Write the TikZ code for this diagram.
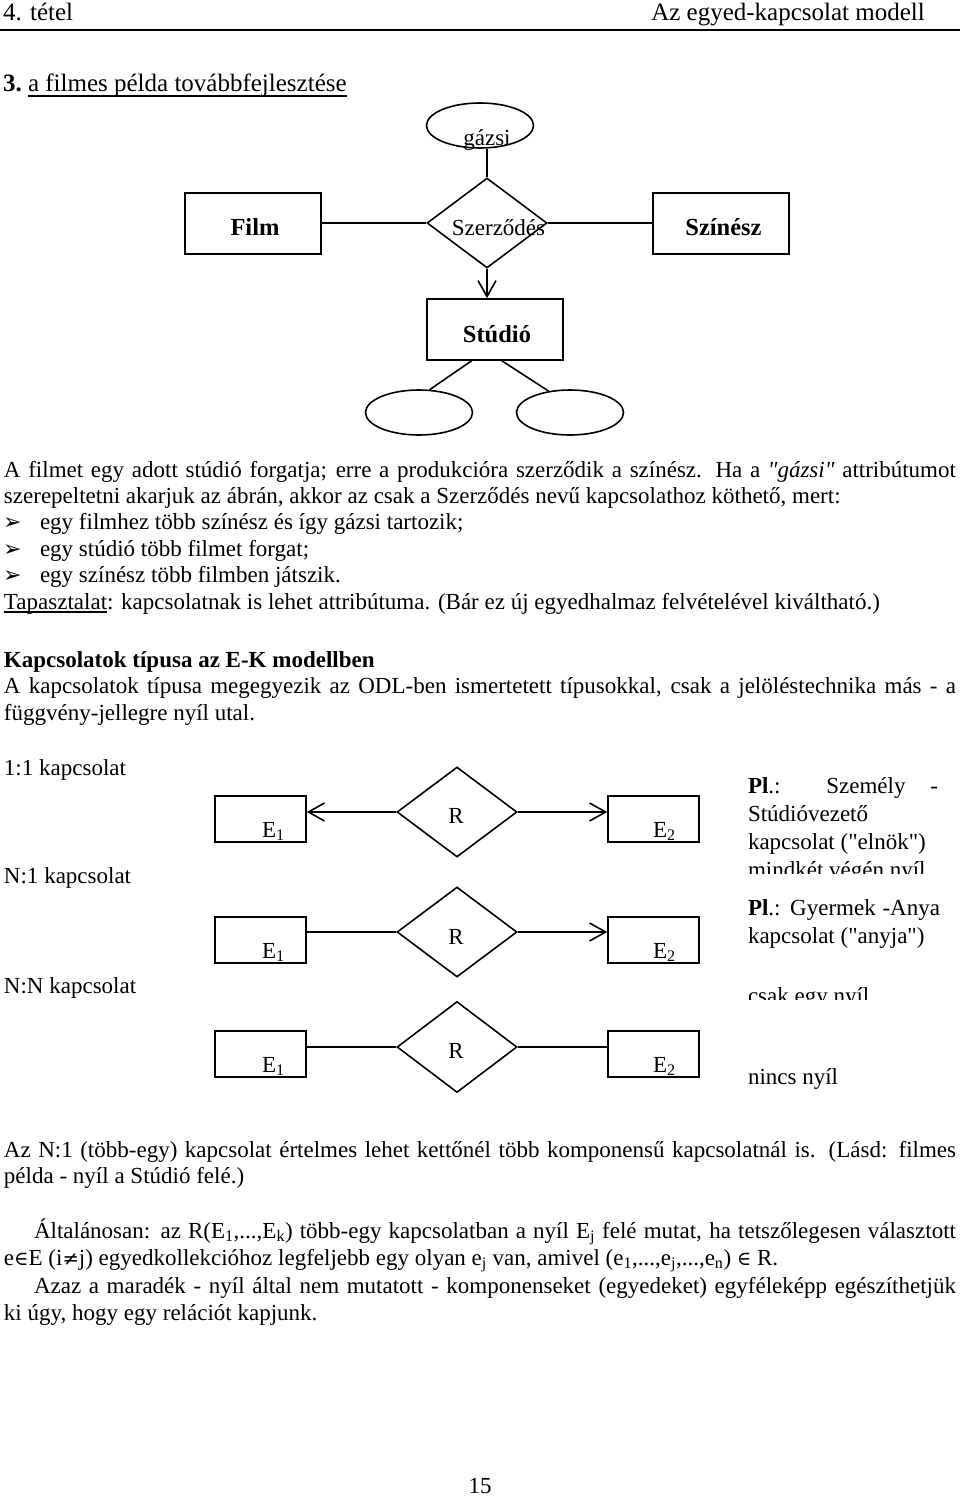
\documentclass[tikz,border=0pt]{standalone}
\usepackage{fontspec}
\setmainfont{Liberation Serif}[Ligatures=TeXOff]
\newfontfamily\djs{DejaVu Sans}
\newfontfamily\symf{DejaVu Serif}[Scale=0.85]
\usetikzlibrary{shapes.geometric,arrows.meta,calc}
\newcommand\fsb{\fontsize{23}{26.5}\selectfont}
\newcommand\fsh{\fontsize{25}{29}\selectfont}
\newcommand\fsk{\fontsize{25}{29}\selectfont}
\newcommand\fse{\fontsize{24.5}{28}\selectfont}
\newcommand\jl[2]{\makebox[#1][s]{#2}}
\tikzset{
 tl/.style={anchor=base west, inner sep=0pt, outer sep=0pt, font=\fsb},
 tc/.style={anchor=base, inner sep=0pt, outer sep=0pt, font=\fsb},
 ent/.style={draw, line width=1.6pt, rectangle, inner sep=0pt},
 bigent/.style={ent, minimum width=136pt, minimum height=61pt},
 smallent/.style={ent, minimum width=91pt, minimum height=46pt},
 rel/.style={draw, line width=1.6pt, diamond, inner sep=0pt, minimum width=120pt, minimum height=90pt},
 attr/.style={draw, line width=1.6pt, ellipse, inner sep=0pt, minimum width=107pt, minimum height=45pt},
 conn/.style={line width=1.6pt},
 arr/.style={conn, -{Straight Barb[length=16pt,width=18pt]}},
 bul/.style={anchor=base west, inner sep=0pt, outer sep=0pt, font=\djs\fontsize{22}{24}\selectfont},
}
\begin{document}
\begin{tikzpicture}[x=1pt,y=-1pt]
\useasboundingbox (0,0) rectangle (960,1496);
\fill[white] (0,0) rectangle (960,1496);

% header
\node[tl, font=\fsh] (hl) at (3,21) {4. tétel};
\node[anchor=base east, inner sep=0pt, font=\fsh] (hr) at (925,21) {Az egyed-kapcsolat modell};
\coordinate (rl) at (0,30);
\coordinate (rr) at (960,30);
\draw[line width=2pt] (rl) -- (rr);

% heading
\node[tl, font=\fsk\bfseries] (h3n) at (3,92) {3.};
\node[tl, font=\fsk] (h3t) at (28,92) {a filmes példa továbbfejlesztése};
\draw[line width=1.5pt] ([yshift=-4pt]h3t.base west) -- ([yshift=-4pt]h3t.base east);

% ER diagram
\node[attr] (gazsi) at (480,125.5) {};
\node[tc] (gazsil) at (487,145) {gázsi};
\node[rel] (szerz) at (487,223) {};
\node[tc] (szerzl) at (498.5,235) {Szerződés};
\node[bigent] (film) at (253,223.5) {};
\node[tc, font=\fse\bfseries] (filml) at (255,235) {Film};
\node[bigent] (szin) at (721,223.5) {};
\node[tc, font=\fse\bfseries] (szinl) at (723.5,235) {Színész};
\node[bigent] (stud) at (495,329.5) {};
\node[tc, font=\fse\bfseries] (studl) at (497,342) {Stúdió};
\node[attr] (sa1) at (419,412.5) {};
\node[attr] (sa2) at (570,412.5) {};
\draw[conn] (szerz.north) -- (szerz.north |- gazsi.south);
\draw[conn] (film.east |- szerz.west) -- (szerz.west);
\draw[conn] (szerz.east) -- (szin.west |- szerz.east);
\draw[arr] (szerz.south) -- (szerz.south |- stud.north);
\draw[conn] ($(stud.south west)!0.33!(stud.south east)$) -- (sa1.65);
\draw[conn] ($(stud.south west)!0.55!(stud.south east)$) -- (sa2.135);

% paragraph
\node[tl] (p1) at (4,477) {\jl{952pt}{A filmet egy adott stúdió forgatja; erre a produkcióra szerződik a színész. Ha a \textit{"gázsi"} attribútumot}};
\node[tl] (p2) at (4,503.4) {szerepeltetni akarjuk az ábrán, akkor az csak a Szerződés nevű kapcsolathoz köthető, mert:};
\node[bul] (bu1) at (3,529.8) {➢};
\node[tl] (p3) at (40,529.8) {egy filmhez több színész és így gázsi tartozik;};
\node[bul] (bu2) at (3,556.2) {➢};
\node[tl] (p4) at (40,556.2) {egy stúdió több filmet forgat;};
\node[bul] (bu3) at (3,582.6) {➢};
\node[tl] (p5) at (40,582.6) {egy színész több filmben játszik.};
\node[tl] (tap) at (4,609) {Tapasztalat};
\node[tl] (p6) at (tap.base east) {: kapcsolatnak is lehet attribútuma. (Bár ez új egyedhalmaz felvételével kiváltható.)};
\draw[line width=1.2pt] ([yshift=-3pt]tap.base west) -- ([yshift=-3pt]tap.base east);

\node[tl, font=\fsb\bfseries] (k0) at (4,667) {Kapcsolatok típusa az E-K modellben};
\node[tl] (k1) at (4,693.5) {\jl{952pt}{A kapcsolatok típusa megegyezik az ODL-ben ismertetett típusokkal, csak a jelöléstechnika más - a}};
\node[tl] (k2) at (4,720) {függvény-jellegre nyíl utal.};

\node[tl] (t11) at (4,775) {1:1 kapcsolat};
\node[tl] (tn1) at (4,883) {N:1 kapcsolat};
\node[tl] (tnn) at (4,993) {N:N kapcsolat};

% row 1
\node[smallent] (a1) at (260.5,819) {};
\node[tl] (a1l) at (262,837) {E\textsubscript{1}};
\node[rel] (r1) at (457,812) {};
\node[tc] (r1l) at (456,823) {R};
\node[smallent] (c1) at (653.5,819) {};
\node[tl] (c1l) at (653,837) {E\textsubscript{2}};
\draw[arr] (r1.west) -- (a1.east |- r1.west);
\draw[arr] (r1.east) -- (c1.west |- r1.east);

% row 2
\node[smallent] (a2) at (260.5,940) {};
\node[tl] (a2l) at (262,958) {E\textsubscript{1}};
\node[rel] (r2) at (457,932) {};
\node[tc] (r2l) at (456,944) {R};
\node[smallent] (c2) at (653.5,940) {};
\node[tl] (c2l) at (653,958) {E\textsubscript{2}};
\draw[conn] (r2.west) -- (a2.east |- r2.west);
\draw[arr] (r2.east) -- (c2.west |- r2.east);

% row 3
\node[smallent] (a3) at (260.5,1054) {};
\node[tl] (a3l) at (262,1072) {E\textsubscript{1}};
\node[rel, minimum height=91pt] (r3) at (457,1047) {};
\node[tc] (r3l) at (456,1058) {R};
\node[smallent] (c3) at (653.5,1054) {};
\node[tl] (c3l) at (653,1072) {E\textsubscript{2}};
\draw[conn] (r3.west) -- (a3.east |- r3.west);
\draw[conn] (r3.east) -- (c3.west |- r3.east);

% side notes
\node[tl] (q1) at (748,793) {\jl{190pt}{\textbf{Pl}.: Személy -}};
\node[tl] (q2) at (748,821) {Stúdióvezető};
\node[tl] (q3) at (748,849) {kapcsolat ("elnök")};
\begin{scope}
\clip (740,856) rectangle (960,873);
\node[tl] (q4) at (748,877) {mindkét végén nyíl};
\end{scope}
\node[tl] (q5) at (748,915) {\jl{192pt}{\textbf{Pl}.: Gyermek -Anya}};
\node[tl] (q6) at (748,943) {kapcsolat ("anyja")};
\begin{scope}
\clip (740,975) rectangle (960,999);
\node[tl] (q7) at (748,1003) {csak egy nyíl};
\end{scope}
\node[tl] (q8) at (748,1084) {nincs nyíl};

% bottom paragraph
\node[tl] (z1) at (4,1157) {\jl{952pt}{Az N:1 (több-egy) kapcsolat értelmes lehet kettőnél több komponensű kapcsolatnál is. (Lásd: filmes}};
\node[tl] (z2) at (4,1183) {példa - nyíl a Stúdió felé.)};
\node[tl] (z3) at (34,1238) {\jl{922pt}{Általánosan: az R(E\textsubscript{1},...,E\textsubscript{k}) több-egy kapcsolatban a nyíl E\textsubscript{j} felé mutat, ha tetszőlegesen választott}};
\node[tl] (z4) at (4,1265) {e{\symf ∈}E (i{\symf ≠}j) egyedkollekcióhoz legfeljebb egy olyan e\textsubscript{j} van, amivel (e\textsubscript{1},...,e\textsubscript{j},...,e\textsubscript{n}) {\symf ∈} R.};
\node[tl] (z5) at (34,1293) {\jl{922pt}{Azaz a maradék - nyíl által nem mutatott - komponenseket (egyedeket) egyféleképp egészíthetjük}};
\node[tl] (z6) at (4,1320) {ki úgy, hogy egy relációt kapjunk.};
\node[tc] (pg) at (480,1493) {15};
\end{tikzpicture}
\end{document}
